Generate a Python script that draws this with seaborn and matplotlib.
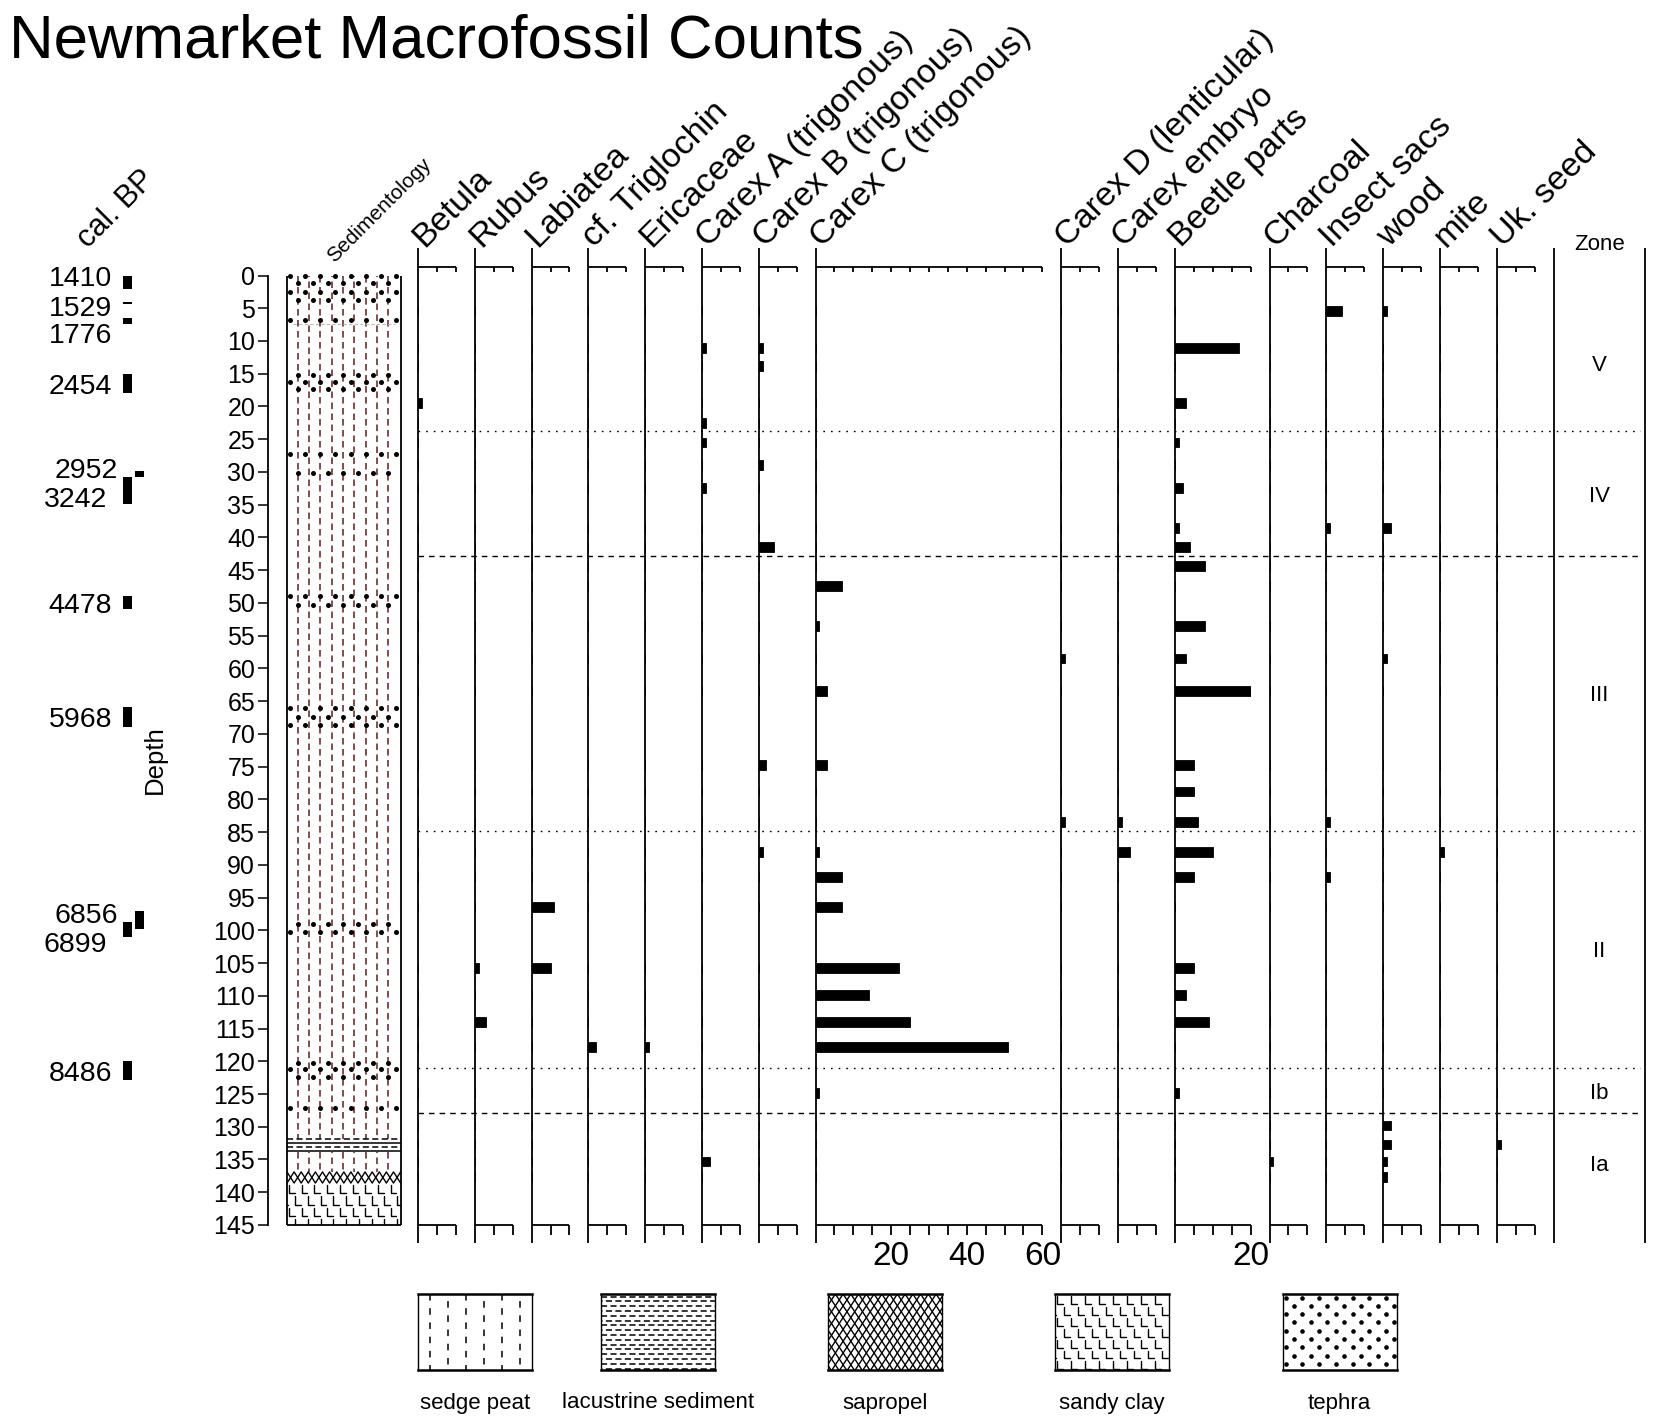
import numpy as np
import pandas as pd
import matplotlib
matplotlib.use("Agg")
import matplotlib.pyplot as plt
import seaborn as sns

# ---------------- data ----------------
# sample depths (cm)
depths = [5.4, 11.1, 13.8, 19.5, 22.5, 25.5, 28.9, 32.5, 38.6, 41.5,
          44.4, 47.4, 53.5, 58.5, 63.5, 74.8, 78.8, 83.4, 88.0, 91.9,
          96.4, 105.7, 109.9, 114.0, 117.8, 124.8, 129.8, 132.7, 135.3, 137.7]

# counts per sample, same order as depths
betula       = [0, 0, 0, 1, 0, 0, 0, 0, 0, 0,  0, 0, 0, 0, 0, 0, 0, 0, 0, 0,  0, 0, 0, 0, 0, 0, 0, 0, 0, 0]
rubus        = [0, 0, 0, 0, 0, 0, 0, 0, 0, 0,  0, 0, 0, 0, 0, 0, 0, 0, 0, 0,  0, 1, 0, 3, 0, 0, 0, 0, 0, 0]
labiatea     = [0, 0, 0, 0, 0, 0, 0, 0, 0, 0,  0, 0, 0, 0, 0, 0, 0, 0, 0, 0,  6, 5, 0, 0, 0, 0, 0, 0, 0, 0]
triglochin   = [0, 0, 0, 0, 0, 0, 0, 0, 0, 0,  0, 0, 0, 0, 0, 0, 0, 0, 0, 0,  0, 0, 0, 0, 2, 0, 0, 0, 0, 0]
ericaceae    = [0, 0, 0, 0, 0, 0, 0, 0, 0, 0,  0, 0, 0, 0, 0, 0, 0, 0, 0, 0,  0, 0, 0, 0, 1, 0, 0, 0, 0, 0]
carex_a      = [0, 1, 0, 0, 1, 1, 0, 1, 0, 0,  0, 0, 0, 0, 0, 0, 0, 0, 0, 0,  0, 0, 0, 0, 0, 0, 0, 0, 2, 0]
carex_b      = [0, 1, 1, 0, 0, 0, 1, 0, 0, 4,  0, 0, 0, 0, 0, 2, 0, 0, 1, 0,  0, 0, 0, 0, 0, 0, 0, 0, 0, 0]
carex_c      = [0, 0, 0, 0, 0, 0, 0, 0, 0, 0,  0, 7, 1, 0, 3, 3, 0, 0, 1, 7,  7, 22, 14, 25, 51, 1, 0, 0, 0, 0]
carex_d      = [0, 0, 0, 0, 0, 0, 0, 0, 0, 0,  0, 0, 0, 1, 0, 0, 0, 1, 0, 0,  0, 0, 0, 0, 0, 0, 0, 0, 0, 0]
carex_embryo = [0, 0, 0, 0, 0, 0, 0, 0, 0, 0,  0, 0, 0, 0, 0, 0, 0, 1, 3, 0,  0, 0, 0, 0, 0, 0, 0, 0, 0, 0]
beetle       = [0, 17, 0, 3, 0, 1, 0, 2, 1, 4,  8, 0, 8, 3, 20, 5, 5, 6, 10, 5,  0, 5, 3, 9, 0, 1, 0, 0, 0, 0]
charcoal     = [0, 0, 0, 0, 0, 0, 0, 0, 0, 0,  0, 0, 0, 0, 0, 0, 0, 0, 0, 0,  0, 0, 0, 0, 0, 0, 0, 0, 1, 0]
insect_sacs  = [4, 0, 0, 0, 0, 0, 0, 0, 1, 0,  0, 0, 0, 0, 0, 0, 0, 1, 0, 1,  0, 0, 0, 0, 0, 0, 0, 0, 0, 0]
wood         = [1, 0, 0, 0, 0, 0, 0, 0, 2, 0,  0, 0, 0, 1, 0, 0, 0, 0, 0, 0,  0, 0, 0, 0, 0, 0, 2, 2, 1, 1]
mite         = [0, 0, 0, 0, 0, 0, 0, 0, 0, 0,  0, 0, 0, 0, 0, 0, 0, 0, 1, 0,  0, 0, 0, 0, 0, 0, 0, 0, 0, 0]
uk_seed      = [0, 0, 0, 0, 0, 0, 0, 0, 0, 0,  0, 0, 0, 0, 0, 0, 0, 0, 0, 0,  0, 0, 0, 0, 0, 0, 0, 1, 0, 0]

taxa = ["Betula", "Rubus", "Labiatea", "cf. Triglochin", "Ericaceae",
        "Carex A (trigonous)", "Carex B (trigonous)", "Carex C (trigonous)",
        "Carex D (lenticular)", "Carex embryo", "Beetle parts", "Charcoal",
        "Insect sacs", "wood", "mite", "Uk. seed"]
counts = [betula, rubus, labiatea, triglochin, ericaceae, carex_a, carex_b, carex_c,
          carex_d, carex_embryo, beetle, charcoal, insect_sacs, wood, mite, uk_seed]
axis_max = [10, 10, 10, 10, 10, 10, 10, 60, 10, 10, 20, 10, 10, 10, 10, 10]
axis_labels = {"Carex C (trigonous)": [20, 40, 60], "Beetle parts": [20]}

# radiocarbon dates
cal_bp = [1410, 1529, 1776, 2454, 2952, 3242, 4478, 5968, 6856, 6899, 8486]
cal_top = [0.0, 4.0, 6.5, 15.0, 29.9, 30.8, 49.0, 65.9, 97.0, 98.7, 120.0]
cal_bottom = [2.0, 4.4, 7.4, 18.0, 30.8, 34.9, 51.0, 69.0, 99.8, 101.0, 122.9]
cal_col = [0, 0, 0, 0, 1, 0, 0, 0, 1, 0, 0]

# zones
zone_names = ["V", "IV", "III", "II", "Ib", "Ia"]
zone_mid = [13.3, 33.3, 63.8, 102.8, 124.5, 135.5]
zone_bounds = [23.8, 42.8, 84.8, 121.0, 127.9]
zone_style = ["dotted", "dashed", "dotted", "dotted", "dashed"]

# sedimentology
sed_units = ["sedge peat", "lacustrine sediment", "sedge peat", "sapropel", "sandy clay"]
sed_top = [0.0, 131.9, 133.9, 136.9, 138.6]
sed_bottom = [131.9, 133.9, 136.9, 138.6, 145.0]
tephra_depths = [0.0, 1.2, 2.5, 3.7, 6.8, 15.2, 16.3, 17.3, 27.3, 30.1, 49.0, 50.3,
                 66.0, 67.4, 68.7, 99.0, 100.3, 120.2, 121.2, 122.4, 127.2]
legend_units = ["sedge peat", "lacustrine sediment", "sapropel", "sandy clay", "tephra"]

# ---------------- layout (pixels) ----------------
W, H = 1654, 1426
Y0 = 275.5          # pixel row of depth 0
PX_CM = 6.548       # pixels per cm of depth
PX_COUNT = 3.78     # pixels per count
COL_X0, COL_GAP = 418, 19
D_TOP, D_BOT = -4.2, 147.8
PEAT_RED = "#5e1f1f"

sns.set_style("white")
plt.rcParams["font.family"] = ["Liberation Sans", "DejaVu Sans"]
plt.rcParams["axes.facecolor"] = "none"
for key in ["text.color", "axes.labelcolor", "xtick.color", "ytick.color"]:
    plt.rcParams[key] = "black"

fig = plt.figure(figsize=(W / 100, H / 100), dpi=100)


def ypx(d):
    return Y0 + PX_CM * d


def px_axes(x0, y0, x1, y1):
    return fig.add_axes([x0 / W, 1 - y1 / H, (x1 - x0) / W, (y1 - y0) / H])


def ftext(x, y, s, **kw):
    fig.text(x / W, 1 - y / H, s, **kw)


def draw_pattern(ax, kind, x0, x1, y0, y1, sx, sy, fine=False):
    """Fill a box with a lithology symbol; sx, sy = data units per pixel."""
    w = (x1 - x0) / sx
    h = (y1 - y0) / sy
    X = lambda p: x0 + np.asarray(p, dtype=float) * sx
    Y = lambda p: y0 + np.asarray(p, dtype=float) * sy
    if kind == "sedge peat":
        step, start = (11.3, 10.7) if fine else (18.0, 12.0)
        color = PEAT_RED if fine else "black"
        dash = (4.3, 2.9) if fine else (4.3, 5.0)
        for k, p in enumerate(np.arange(start, w - 2, step)):
            ax.plot(X([p, p]), [y0, y1], color=color, lw=1.1,
                    linestyle=((k % 2) * (dash[0] + dash[1]) / 2, dash))
    elif kind == "lacustrine sediment":
        step = 3.9 if fine else 4.8
        for r, p in enumerate(np.arange(0.3 if fine else 2.5, h, step)):
            if fine and r % 2:
                ls = "-"
            else:
                ls = ((r % 2) * 3, (4.0, 2.2))
            ax.plot([x0, x1], Y([p, p]), color="black", lw=1.1, linestyle=ls)
    elif kind == "sapropel":
        row_h = h if fine else 11.8
        dw = 14.2 if fine else 15.5
        xs = np.arange(-dw, w + dw, dw / 2)
        up = (np.arange(len(xs)) % 2 == 0)
        for r in range(int(np.ceil(h / row_h))):
            yt, yb = r * row_h, (r + 1) * row_h
            ax.plot(X(xs), Y(np.where(up, yt, yb)), color="black", lw=1.0)
            ax.plot(X(xs), Y(np.where(up, yb, yt)), color="black", lw=1.0)
    elif kind == "sandy clay":
        row_h = 11.4 if fine else 10.9
        dx = 12.7 if fine else 14.0
        px, py = [], []
        for r in range(int(np.ceil(h / row_h))):
            yt, yb = r * row_h, (r + 1) * row_h
            for xk in np.arange(2 + (r % 2) * dx / 2 - dx, w, dx):
                px += [xk, xk, xk + dx * 0.45, np.nan]
                py += [yt + 2, yb - 1, yb - 1, np.nan]
        ax.plot(X(px), Y(py), color="black", lw=1.0)
    elif kind == "tephra":
        dxs, dys = 16.7, 8.3
        for r, p in enumerate(np.arange(3.5, h, dys)):
            xs = np.arange(3 + (r % 2) * dxs / 2, w, dxs)
            ax.scatter(X(xs), Y(np.full(len(xs), p)), s=11, color="black",
                       linewidths=0, zorder=3)


# ---------------- title ----------------
ftext(9, 57, "Newmarket Macrofossil Counts", fontsize=44.5, ha="left", va="baseline")

# ---------------- zone boundary lines ----------------
ax_z = px_axes(COL_X0, ypx(D_TOP), 1641, ypx(D_BOT))
ax_z.set_xlim(0, 1)
ax_z.set_ylim(D_BOT, D_TOP)
ax_z.axis("off")
for b, st in zip(zone_bounds, zone_style):
    ls = (0, (1.2, 4.3)) if st == "dotted" else (0, (4.0, 3.6))
    ax_z.axhline(b, color="black", lw=1.0, linestyle=ls)

# ---------------- taxa columns ----------------
df = pd.DataFrame({"depth": depths, **dict(zip(taxa, counts))})
native = np.min(np.diff(np.unique(depths)))
bar_w = 1.5 / native

line_kw = dict(color="black", lw=1.3, clip_on=False, solid_capstyle="butt")
cx = COL_X0
for name, mx in zip(taxa, axis_max):
    ax = px_axes(cx, ypx(D_TOP), cx + mx * PX_COUNT, ypx(D_BOT))
    sns.barplot(data=df, x=name, y="depth", orient="y", native_scale=True,
                width=bar_w, color="black", saturation=1, edgecolor="black",
                linewidth=0.6, errorbar=None, ax=ax)
    ax.set_xlim(0, mx)
    ax.set_ylim(D_BOT, D_TOP)
    ax.axis("off")
    ax.plot([0, 0], [D_TOP, D_BOT], **line_kw)
    ax.plot([0, mx], [-1.3, -1.3], **line_kw)
    ax.plot([0, mx], [145, 145], **line_kw)
    for t in np.arange(5, mx + 0.1, 5):
        ax.plot([t, t], [-1.3, -0.5], **line_kw)
        ax.plot([t, t], [145, 146.5], **line_kw)
    for v in axis_labels.get(name, []):
        ax.text(v, 149.8, str(v), ha="center", va="center", fontsize=24)
    ftext(cx + 6, 248, name, rotation=45, rotation_mode="anchor",
          ha="left", va="baseline", fontsize=24.5)
    cx += mx * PX_COUNT + COL_GAP

# ---------------- zone column ----------------
ax_zone = px_axes(cx, ypx(D_TOP), 1645, ypx(D_BOT))
ax_zone.set_xlim(0, 1)
ax_zone.set_ylim(D_BOT, D_TOP)
ax_zone.axis("off")
ax_zone.plot([0, 0], [D_TOP, D_BOT], **line_kw)
ax_zone.plot([1, 1], [D_TOP, D_BOT], **line_kw)
for name, d in zip(zone_names, zone_mid):
    ax_zone.text(0.5, d, name, ha="center", va="center_baseline", fontsize=16)
ax_zone.text(0.5, -4.7, "Zone", ha="center", va="center", fontsize=16)

# ---------------- depth axis ----------------
ax_d = px_axes(268, ypx(0), 282, ypx(145))
ax_d.set_ylim(145, 0)
ax_d.set_xticks([])
ax_d.set_yticks(np.arange(0, 146, 5))
for s in ["top", "right", "bottom"]:
    ax_d.spines[s].set_visible(False)
ax_d.spines["left"].set_linewidth(1.3)
ax_d.spines["left"].set_color("black")
ax_d.tick_params(axis="y", direction="out", length=7.2, width=1.1, labelsize=18,
                 pad=2, colors="black", left=True)
ftext(155, 760, "Depth", rotation=90, ha="center", va="center", fontsize=18.5)

# ---------------- cal. BP column ----------------
ax_c = px_axes(0, ypx(0), 268, ypx(145))
ax_c.set_xlim(0, 268)
ax_c.set_ylim(145, 0)
ax_c.axis("off")
cal_x = [127.5 + 11.5 * c for c in cal_col]
ax_c.bar(cal_x, np.subtract(cal_bottom, cal_top), bottom=cal_top, width=9,
         color="black", linewidth=0)
cal_label_dx = [0, 0, 0, 0, 6, -5, 0, 0, 6, -5, 0]
cal_label_dy = [-0.9, 0.4, 1.9, 0.1, -0.95, 1.05, 0, 0, -1.0, 1.95, 0]
for age, t, b, dx, dy in zip(cal_bp, cal_top, cal_bottom, cal_label_dx, cal_label_dy):
    ax_c.text(112 + dx, (t + b) / 2 + dy, str(age), ha="right",
              va="center_baseline", fontsize=20.5)
ftext(88, 249, "cal. BP", rotation=45, rotation_mode="anchor",
      ha="left", va="baseline", fontsize=22)

# ---------------- sedimentology column ----------------
ax_s = px_axes(287, ypx(0), 401, ypx(145))
ax_s.set_xlim(0, 1)
ax_s.set_ylim(145, 0)
ax_s.axis("off")
for unit, t, b in zip(sed_units, sed_top, sed_bottom):
    draw_pattern(ax_s, unit, 0, 1, t, b, 1 / 114, 1 / PX_CM, fine=True)
ax_s.plot([0.05, 0.95], [7.4, 7.4], color="#bbbbbb", lw=0.8, linestyle=(0, (3, 2)))
xs_a = np.linspace(0.026, 0.956, 8)
xs_b = np.linspace(0.094, 0.883, 7)
for i, d in enumerate(tephra_depths):
    xs = xs_a if i % 2 == 0 else xs_b
    ax_s.scatter(xs, np.full(len(xs), d), s=13, color="black", linewidths=0,
                 zorder=3, clip_on=False)
ax_s.plot([0, 0], [0, 145], **line_kw)
ax_s.plot([1, 1], [0, 145], **line_kw)
ax_s.plot([0, 1], [145, 145], **line_kw)
ftext(334, 263, "Sedimentology", rotation=45, rotation_mode="anchor",
      ha="left", va="baseline", fontsize=15)

# ---------------- lithology legend ----------------
legend_x = [418, 600.6, 827.6, 1055, 1282.7]
for unit, lx in zip(legend_units, legend_x):
    ax_l = px_axes(lx, 1294, lx + 114, 1370)
    ax_l.set_xlim(0, 114)
    ax_l.set_ylim(76, 0)
    ax_l.set_xticks([])
    ax_l.set_yticks([])
    ax_l.set_facecolor("white")
    draw_pattern(ax_l, unit, 0, 114, 0, 76, 1, 1)
    for s in ["top", "bottom"]:
        ax_l.spines[s].set_linewidth(1.8)
        ax_l.spines[s].set_color("black")
    for s in ["left", "right"]:
        ax_l.spines[s].set_linewidth(1.0)
        ax_l.spines[s].set_color("black")
    ftext(lx + 57, 1403, unit, ha="center", va="center", fontsize=16)

fig.savefig("out.png", dpi=100)
